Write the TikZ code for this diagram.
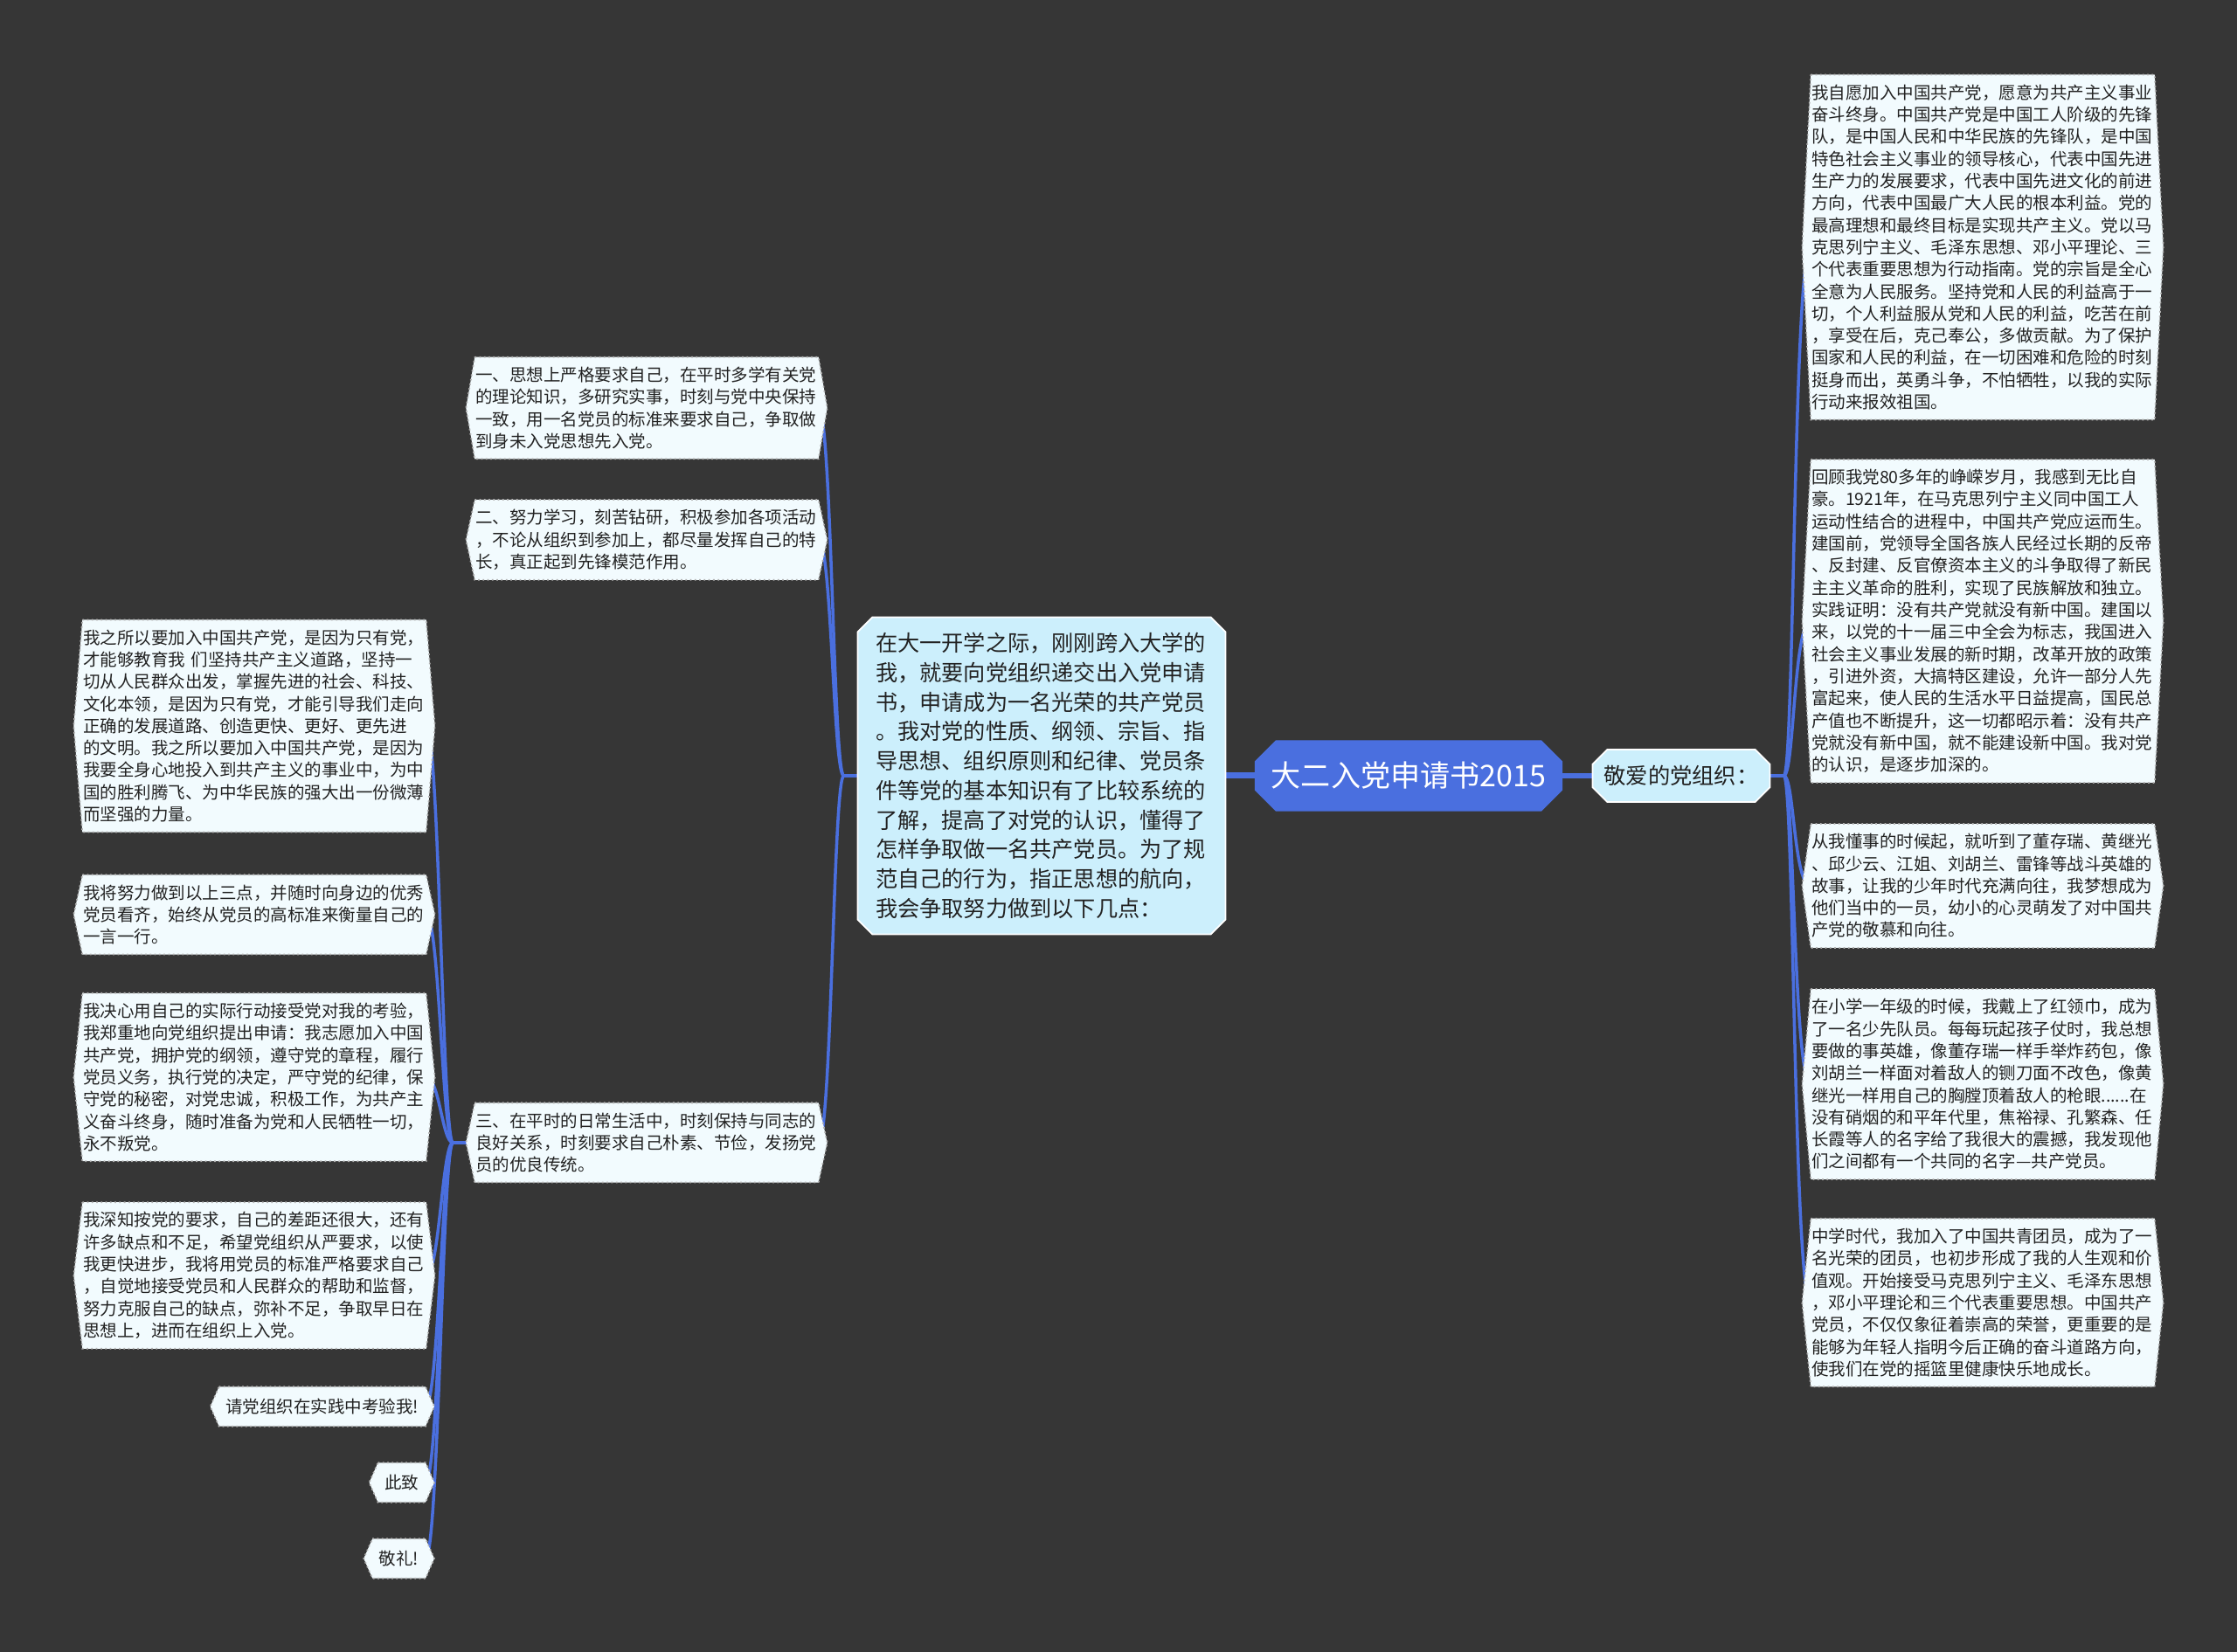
\documentclass[tikz,border=0pt]{standalone}
\usepackage{fontspec}
\setmainfont{Noto Sans CJK SC}
\usetikzlibrary{shapes.misc,backgrounds}

\definecolor{bgdark}{HTML}{363636}
\definecolor{mapblue}{HTML}{4A6FDF}
\definecolor{boxblue}{HTML}{CCEFFC}
\definecolor{leafwhite}{HTML}{F2FBFE}
\definecolor{inkgray}{HTML}{222222}

\newcommand{\leaffont}{\fontsize{5.55pt}{7.2pt}\selectfont}

\begin{document}
\begin{tikzpicture}[
  rootbox/.style={chamfered rectangle,chamfered rectangle sep=3.4pt,fill=mapblue,draw=mapblue,
    text=white,font=\fontsize{9.7pt}{11pt}\selectfont,minimum width=3.51cm,minimum height=0.80cm,inner sep=1pt},
  midbox/.style={chamfered rectangle,chamfered rectangle sep=2.4pt,fill=boxblue,draw=white,
    line width=0.5pt,text=inkgray,inner sep=1pt},
  leaf/.style={text width=3.92cm,inner xsep=0pt,inner ysep=3pt,align=left,font=\leaffont,text=inkgray},
  tag/.style={inner xsep=2pt,inner ysep=0pt,minimum height=0.44cm,font=\leaffont,text=inkgray,anchor=east},
  leafbg/.style={fill=leafwhite,draw=white!70!black,densely dotted,line width=0.5pt},
  trunk/.style={mapblue,line width=2pt},
  branch/.style={mapblue,line width=1pt},
]
\useasboundingbox (0,0) rectangle (25.60,18.91);

% centre
\node[rootbox] (root) at (16.12,10.03) {大二入党申请书2015};
\node[midbox,font=\fontsize{7.2pt}{9pt}\selectfont,minimum width=2.03cm,minimum height=0.60cm]
  (gj) at (19.24,10.03) {敬爱的党组织：};
\node[midbox,text width=3.80cm,align=left,font=\fontsize{7.17pt}{9.6pt}\selectfont,
  minimum width=4.21cm,minimum height=3.63cm] (c) at (11.92,10.03)
  {在大一开学之际，刚刚跨入大学的\\我，就要向党组织递交出入党申请\\书，申请成为一名光荣的共产党员\\。我对党的性质、纲领、宗旨、指\\导思想、组织原则和纪律、党员条\\件等党的基本知识有了比较系统的\\了解，提高了对党的认识，懂得了\\怎样争取做一名共产党员。为了规\\范自己的行为，指正思想的航向，\\我会争取努力做到以下几点：};

% right side
\node[leaf] (r1) at (22.69,16.08) {我自愿加入中国共产党，愿意为共产主义事业\\奋斗终身。中国共产党是中国工人阶级的先锋\\队，是中国人民和中华民族的先锋队，是中国\\特色社会主义事业的领导核心，代表中国先进\\生产力的发展要求，代表中国先进文化的前进\\方向，代表中国最广大人民的根本利益。党的\\最高理想和最终目标是实现共产主义。党以马\\克思列宁主义、毛泽东思想、邓小平理论、三\\个代表重要思想为行动指南。党的宗旨是全心\\全意为人民服务。坚持党和人民的利益高于一\\切，个人利益服从党和人民的利益，吃苦在前\\，享受在后，克己奉公，多做贡献。为了保护\\国家和人民的利益，在一切困难和危险的时刻\\挺身而出，英勇斗争，不怕牺牲，以我的实际\\行动来报效祖国。};
\node[leaf] (r2) at (22.69,11.80) {回顾我党80多年的峥嵘岁月，我感到无比自\\豪。1921年，在马克思列宁主义同中国工人\\运动性结合的进程中，中国共产党应运而生。\\建国前，党领导全国各族人民经过长期的反帝\\、反封建、反官僚资本主义的斗争取得了新民\\主主义革命的胜利，实现了民族解放和独立。\\实践证明：没有共产党就没有新中国。建国以\\来，以党的十一届三中全会为标志，我国进入\\社会主义事业发展的新时期，改革开放的政策\\，引进外资，大搞特区建设，允许一部分人先\\富起来，使人民的生活水平日益提高，国民总\\产值也不断提升，这一切都昭示着：没有共产\\党就没有新中国，就不能建设新中国。我对党\\的认识，是逐步加深的。};
\node[leaf] (r3) at (22.69,8.77) {从我懂事的时候起，就听到了董存瑞、黄继光\\、邱少云、江姐、刘胡兰、雷锋等战斗英雄的\\故事，让我的少年时代充满向往，我梦想成为\\他们当中的一员，幼小的心灵萌发了对中国共\\产党的敬慕和向往。};
\node[leaf] (r4) at (22.69,6.50) {在小学一年级的时候，我戴上了红领巾，成为\\了一名少先队员。每每玩起孩子仗时，我总想\\要做的事英雄，像董存瑞一样手举炸药包，像\\刘胡兰一样面对着敌人的铡刀面不改色，像黄\\继光一样用自己的胸膛顶着敌人的枪眼......在\\没有硝烟的和平年代里，焦裕禄、孔繁森、任\\长霞等人的名字给了我很大的震撼，我发现他\\们之间都有一个共同的名字—共产党员。};
\node[leaf] (r5) at (22.69,4.00) {中学时代，我加入了中国共青团员，成为了一\\名光荣的团员，也初步形成了我的人生观和价\\值观。开始接受马克思列宁主义、毛泽东思想\\，邓小平理论和三个代表重要思想。中国共产\\党员，不仅仅象征着崇高的荣誉，更重要的是\\能够为年轻人指明今后正确的奋斗道路方向，\\使我们在党的摇篮里健康快乐地成长。};

% left side
\node[leaf] (l1) at (7.40,14.24) {一、思想上严格要求自己，在平时多学有关党\\的理论知识，多研究实事，时刻与党中央保持\\一致，用一名党员的标准来要求自己，争取做\\到身未入党思想先入党。};
\node[leaf] (l2) at (7.40,12.73) {二、努力学习，刻苦钻研，积极参加各项活动\\，不论从组织到参加上，都尽量发挥自己的特\\长，真正起到先锋模范作用。};
\node[leaf] (l3) at (7.40,5.83) {三、在平时的日常生活中，时刻保持与同志的\\良好关系，时刻要求自己朴素、节俭，发扬党\\员的优良传统。};

\node[leaf] (f1) at (2.91,10.60) {我之所以要加入中国共产党，是因为只有党，\\才能够教育我 们坚持共产主义道路，坚持一\\切从人民群众出发，掌握先进的社会、科技、\\文化本领，是因为只有党，才能引导我们走向\\正确的发展道路、创造更快、更好、更先进\\的文明。我之所以要加入中国共产党，是因为\\我要全身心地投入到共产主义的事业中，为中\\国的胜利腾飞、为中华民族的强大出一份微薄\\而坚强的力量。};
\node[leaf] (f2) at (2.91,8.44) {我将努力做到以上三点，并随时向身边的优秀\\党员看齐，始终从党员的高标准来衡量自己的\\一言一行。};
\node[leaf] (f3) at (2.91,6.58) {我决心用自己的实际行动接受党对我的考验，\\我郑重地向党组织提出申请：我志愿加入中国\\共产党，拥护党的纲领，遵守党的章程，履行\\党员义务，执行党的决定，严守党的纪律，保\\守党的秘密，对党忠诚，积极工作，为共产主\\义奋斗终身，随时准备为党和人民牺牲一切，\\永不叛党。};
\node[leaf] (f4) at (2.91,4.31) {我深知按党的要求，自己的差距还很大，还有\\许多缺点和不足，希望党组织从严要求，以使\\我更快进步，我将用党员的标准严格要求自己\\，自觉地接受党员和人民群众的帮助和监督，\\努力克服自己的缺点，弥补不足，争取早日在\\思想上，进而在组织上入党。};
\node[tag] (s1) at (4.87,2.81) {请党组织在实践中考验我!};
\node[tag] (s2) at (4.87,1.94) {此致};
\node[tag] (s3) at (4.87,1.07) {敬礼!};

\begin{pgfonlayer}{background}
\fill[bgdark] (0,0) rectangle (25.60,18.91);
\draw[trunk] (c.east) -- (root.west);
\draw[mapblue,line width=1.6pt] (root.east) -- (gj.west);
\foreach \n in {r1,r2,r3,r4,r5}
  \draw[branch] (gj.east) -- ++(0.15,0) .. controls +(0.12,0) and +(-0.2,0) .. (\n.west);
\foreach \n in {l1,l2,l3}
  \draw[branch] (c.west) -- ++(-0.15,0) .. controls +(-0.12,0) and +(0.15,0) .. (\n.east);
\foreach \n in {f1,f2,f3,f4,s1,s2,s3}
  \draw[branch] (l3.west) -- ++(-0.25,0) .. controls +(-0.12,0) and +(0.15,0) .. (\n.east);
% hexagon backs of the leaves
\foreach \n in {r1,r2,r3,r4,r5,l1,l2,l3,f1,f2,f3,f4,s1,s2,s3}
  \filldraw[leafbg] (\n.north west) -- (\n.north east) -- ([xshift=1mm]\n.east)
    -- (\n.south east) -- (\n.south west) -- ([xshift=-1mm]\n.west) -- cycle;
\end{pgfonlayer}
\end{tikzpicture}
\end{document}
